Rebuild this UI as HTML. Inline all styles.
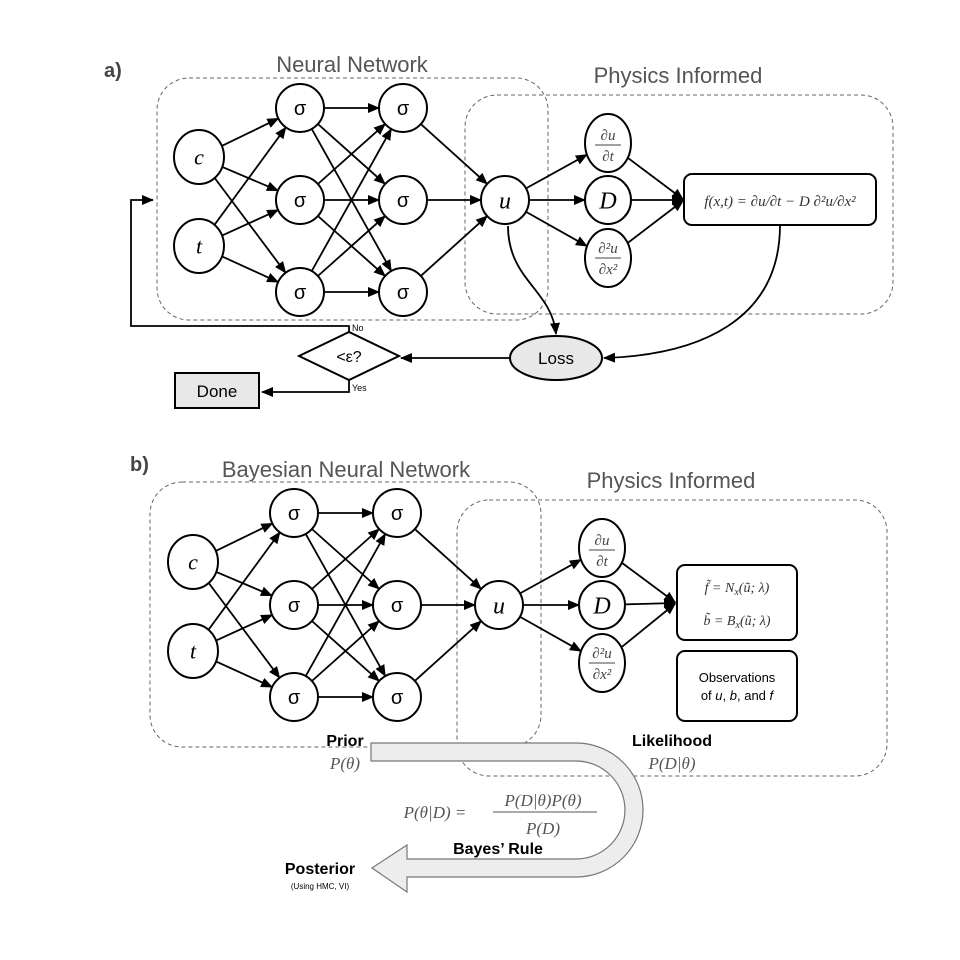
<!DOCTYPE html>
<html><head><meta charset="utf-8"><style>
body{margin:0;background:#fff}
svg{display:block}
.t{font-family:"Liberation Sans",sans-serif}
.m{font-family:"Liberation Serif",serif;font-style:italic}
</style></head><body>
<svg id="s" width="960" height="960" viewBox="0 0 960 960" xmlns="http://www.w3.org/2000/svg">
<defs><marker id="a" markerWidth="12" markerHeight="10" refX="11" refY="5" orient="auto" markerUnits="userSpaceOnUse"><path d="M0,0 L12,5 L0,10 Z" fill="#000"/></marker></defs>
<g fill="none" stroke="#666" stroke-dasharray="4,3" stroke-width="1">
<rect x="157" y="78" width="391" height="242" rx="32"/>
<rect x="465" y="95" width="428" height="219" rx="32"/>
<rect x="150" y="482" width="391" height="265" rx="32"/>
<rect x="457" y="500" width="430" height="276" rx="32"/>
</g>
<g class="t" fill="#555" font-size="22" text-anchor="middle">
<text x="352" y="72">Neural Network</text>
<text x="678" y="83">Physics Informed</text>
<text x="346" y="477">Bayesian Neural Network</text>
<text x="671" y="488">Physics Informed</text>
</g>
<g class="t" font-weight="bold" font-size="20" fill="#444">
<text x="104" y="77">a)</text><text x="130" y="471">b)</text>
</g>
<g id="edges" stroke="#000" stroke-width="1.8" fill="none"></g>
<g id="nodes" stroke="#000" stroke-width="2" fill="#fff"></g>
<g stroke="#000" stroke-width="1.8" fill="none">
<path d="M349,332 V326 H131 V200 H153" marker-end="url(#a)"/>
<path d="M349,380 V392 H262" marker-end="url(#a)"/>
<path d="M510,358 H401" marker-end="url(#a)"/>
<path d="M508,226 C508,280 552,290 556,334" marker-end="url(#a)"/>
<path d="M780,225 C780,320 700,355 604,358" marker-end="url(#a)"/>
</g>
<rect x="684" y="174" width="192" height="51" rx="8" fill="#fff" stroke="#000" stroke-width="2"/>
<text x="780" y="206" class="m" font-size="15" text-anchor="middle" fill="#333">f(x,t) = ∂u/∂t − D ∂²u/∂x²</text>
<ellipse cx="556" cy="358" rx="46" ry="22" fill="#e8e8e8" stroke="#000" stroke-width="2"/>
<text x="556" y="364" class="t" font-size="17" text-anchor="middle">Loss</text>
<path d="M299,356 L349,332 L399,356 L349,380 Z" fill="#fff" stroke="#000" stroke-width="2"/>
<text x="349" y="362" class="t" font-size="16" text-anchor="middle">&lt;ε?</text>
<rect x="175" y="373" width="84" height="35" fill="#e8e8e8" stroke="#000" stroke-width="2"/>
<text x="217" y="397" class="t" font-size="17" text-anchor="middle">Done</text>
<text x="352" y="331" class="t" font-size="9">No</text>
<text x="352" y="391" class="t" font-size="9">Yes</text>
<rect x="677" y="565" width="120" height="75" rx="8" fill="#fff" stroke="#000" stroke-width="2"/>
<text x="737" y="592" class="m" font-size="14" text-anchor="middle" fill="#333">f̃ = N<tspan font-size="10" dy="3">x</tspan><tspan dy="-3">(ũ; λ)</tspan></text>
<text x="737" y="625" class="m" font-size="14" text-anchor="middle" fill="#333">b̃ = B<tspan font-size="10" dy="3">x</tspan><tspan dy="-3">(ũ; λ)</tspan></text>
<rect x="677" y="651" width="120" height="70" rx="8" fill="#fff" stroke="#000" stroke-width="2"/>
<text x="737" y="682" class="t" font-size="13" text-anchor="middle">Observations</text>
<text x="737" y="700" class="t" font-size="13" text-anchor="middle">of <tspan font-style="italic">u</tspan>, <tspan font-style="italic">b</tspan>, and <tspan font-style="italic">f</tspan></text>
<path d="M371,743 H576 A67,67 0 0 1 576,877 H407 V892 L372,868 L407,845 V859 H576 A49,49 0 0 0 576,761 H371 Z" fill="#ededed" stroke="#777" stroke-width="1.2"/>
<g class="t" font-weight="bold" font-size="16" text-anchor="middle">
<text x="345" y="746">Prior</text><text x="672" y="746">Likelihood</text>
<text x="498" y="854">Bayes’ Rule</text><text x="320" y="874">Posterior</text>
</g>
<text x="320" y="889" class="t" font-size="8" text-anchor="middle">(Using HMC, VI)</text>
<g class="m" font-size="17" fill="#555" text-anchor="middle">
<text x="345" y="769">P(θ)</text><text x="672" y="769">P(D|θ)</text>
<text x="435" y="818">P(θ|D) =</text>
<text x="543" y="806">P(D|θ)P(θ)</text><text x="543" y="834">P(D)</text>
</g>
<line x1="493" y1="812" x2="597" y2="812" stroke="#555" stroke-width="1"/>
</svg>
<script>
var NS="http://www.w3.org/2000/svg",E=document.getElementById("edges"),N=document.getElementById("nodes");
function nd(x,y,rx,ry,lab,cls,fs){var e=document.createElementNS(NS,"ellipse");e.setAttribute("cx",x);e.setAttribute("cy",y);e.setAttribute("rx",rx);e.setAttribute("ry",ry);N.appendChild(e);
if(lab){var t=document.createElementNS(NS,"text");t.setAttribute("x",x);t.setAttribute("y",y+fs*0.35);t.setAttribute("text-anchor","middle");t.setAttribute("font-size",fs);t.setAttribute("class",cls);t.setAttribute("stroke","none");t.setAttribute("fill","#000");t.textContent=lab;N.appendChild(t);}return {x:x,y:y,rx:rx,ry:ry};}
function frac(x,y,a,b){var g=document.createElementNS(NS,"g");g.setAttribute("class","m");g.setAttribute("font-size","15");g.setAttribute("fill","#444");g.setAttribute("stroke","none");g.setAttribute("text-anchor","middle");
g.innerHTML='<text x="'+x+'" y="'+(y-5)+'">'+a+'</text><text x="'+x+'" y="'+(y+16)+'">'+b+'</text><line x1="'+(x-13)+'" y1="'+y+'" x2="'+(x+13)+'" y2="'+y+'" stroke="#444" stroke-width="1"/>';N.appendChild(g);}
function ed(a,b){var dx=b.x-a.x,dy=b.y-a.y,L=Math.hypot(dx,dy),ux=dx/L,uy=dy/L;
function r(n){return 1/Math.sqrt((ux*ux)/(n.rx*n.rx)+(uy*uy)/(n.ry*n.ry));}
var ra=r(a),rb=r(b),l=document.createElementNS(NS,"line");l.setAttribute("x1",a.x+ux*ra);l.setAttribute("y1",a.y+uy*ra);l.setAttribute("x2",b.x-ux*rb);l.setAttribute("y2",b.y-uy*rb);l.setAttribute("marker-end","url(#a)");E.appendChild(l);}
function net(ox,oy,fx,fy){var R=24;
var c=nd(ox+199,oy+157,25,27,"c","m t",22),t=nd(ox+199,oy+246,25,27,"t","m t",22);
var L1=[108,200,292].map(function(y){return nd(ox+300,oy+y,R,R,"σ","t",20)});
var L2=[108,200,292].map(function(y){return nd(ox+403,oy+y,R,R,"σ","t",20)});
var u=nd(ox+505,oy+200,R,R,"u","m",24);
var d1=nd(ox+608,oy+143,23,29),dD=nd(ox+608,oy+200,23,24,"D","m",24),d2=nd(ox+608,oy+258,23,29);
frac(ox+608,oy+145,"∂u","∂t");frac(ox+608,oy+258,"∂²u","∂x²");
[c,t].forEach(function(a){L1.forEach(function(b){ed(a,b)})});
L1.forEach(function(a){L2.forEach(function(b){ed(a,b)})});
L2.forEach(function(a){ed(a,u)});
[d1,dD,d2].forEach(function(b){ed(u,b)});
[d1,dD,d2].forEach(function(a){var tgt={x:fx,y:fy,rx:1,ry:1};ed(a,tgt)});}
net(0,0,684,200);net(-6,405,676,603);
</script>
</body></html>
